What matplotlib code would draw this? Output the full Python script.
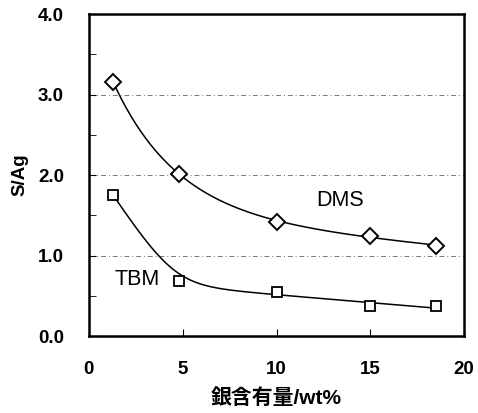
import matplotlib
matplotlib.use("Agg")
import matplotlib.pyplot as plt
import numpy as np

# 銀含有量 (wt%) と S/Ag
silver = [1.3, 4.8, 10.0, 15.0, 18.5]
dms = [3.15, 2.02, 1.42, 1.25, 1.12]
tbm = [1.75, 0.68, 0.55, 0.37, 0.37]


def fit_exp(x, y):
    # y = c + a*exp(-k x) + d*x
    x = np.asarray(x)
    y = np.asarray(y)
    best = None
    for k in np.linspace(0.05, 1.5, 300):
        A = np.column_stack([np.ones_like(x), np.exp(-k * x), x])
        coef = np.linalg.lstsq(A, y, rcond=None)[0]
        err = np.sum((A @ coef - y) ** 2)
        if best is None or err < best[0]:
            best = (err, k, coef)
    _, k, c = best
    return lambda t: c[0] + c[1] * np.exp(-k * t) + c[2] * t


def fit_knee(x, y, m=4.5, w=0.9, wt=(1.0, 0.35, 1.0, 1.0, 1.0)):
    # y = c + d*x + a*softplus((m-x)/w), 重み付き最小二乗
    x = np.asarray(x)
    y = np.asarray(y)
    wt = np.asarray(wt)
    sp = lambda t: w * np.log1p(np.exp((m - t) / w))
    A = np.column_stack([np.ones_like(x), x, sp(x)])
    c = np.linalg.lstsq(A * wt[:, None], y * wt, rcond=None)[0]
    return lambda t: c[0] + c[1] * t + c[2] * sp(t)


plt.rcParams['font.family'] = ['Liberation Sans', 'Noto Sans CJK JP']
fig = plt.figure(figsize=(4.78, 4.13), dpi=100)
ax = fig.add_axes([0.186, 0.186, 0.785, 0.780])

xs = np.linspace(1.2, 18.6, 200)
ax.plot(xs, fit_exp(silver, dms)(xs), color='black', linewidth=1.1)
xs2 = np.linspace(1.3, 18.7, 200)
ax.plot(xs2, fit_knee(silver, tbm)(xs2), color='black', linewidth=1.1)
ax.plot(silver, dms, linestyle='none', marker='D', markersize=8,
        markerfacecolor='white', markeredgecolor='black', markeredgewidth=1.4)
ax.plot(silver, tbm, linestyle='none', marker='s', markersize=6.5,
        markerfacecolor='white', markeredgecolor='black', markeredgewidth=1.3)

ax.text(13.4, 1.69, 'DMS', fontsize=15.5, ha='center', va='center')
ax.text(3.8, 0.70, 'TBM', fontsize=15.5, ha='right', va='center')

for g in [1.0, 2.0, 3.0]:
    ax.axhline(g, color='#777777', linewidth=0.7, linestyle=(0, (5, 3, 1, 3)), zorder=0)

ax.set_xlim(0, 20)
ax.set_ylim(0, 4.0)
ax.set_xticks([0, 5, 10, 15, 20])
ax.set_yticks([0, 1, 2, 3, 4])
ax.set_yticks([0.5, 1.5, 2.5, 3.5], minor=True)
ax.set_yticklabels(['0.0', '1.0', '2.0', '3.0', '4.0'], fontweight='bold', fontsize=13.5)
ax.set_xticklabels(['0', '5', '10', '15', '20'], fontweight='bold', fontsize=13.5)
ax.tick_params(axis='both', which='both', direction='in')
ax.tick_params(axis='y', which='major', length=5, pad=18)
ax.tick_params(axis='y', which='minor', length=5)
ax.tick_params(axis='x', which='major', length=5, pad=18)
for s in ax.spines.values():
    s.set_linewidth(1.8)

ax.set_ylabel('S/Ag', fontsize=13.5, fontweight='bold', labelpad=7)
ax.set_xlabel('銀含有量/wt%', fontsize=15, fontweight='bold', labelpad=7)

fig.savefig('out.png', dpi=100)
